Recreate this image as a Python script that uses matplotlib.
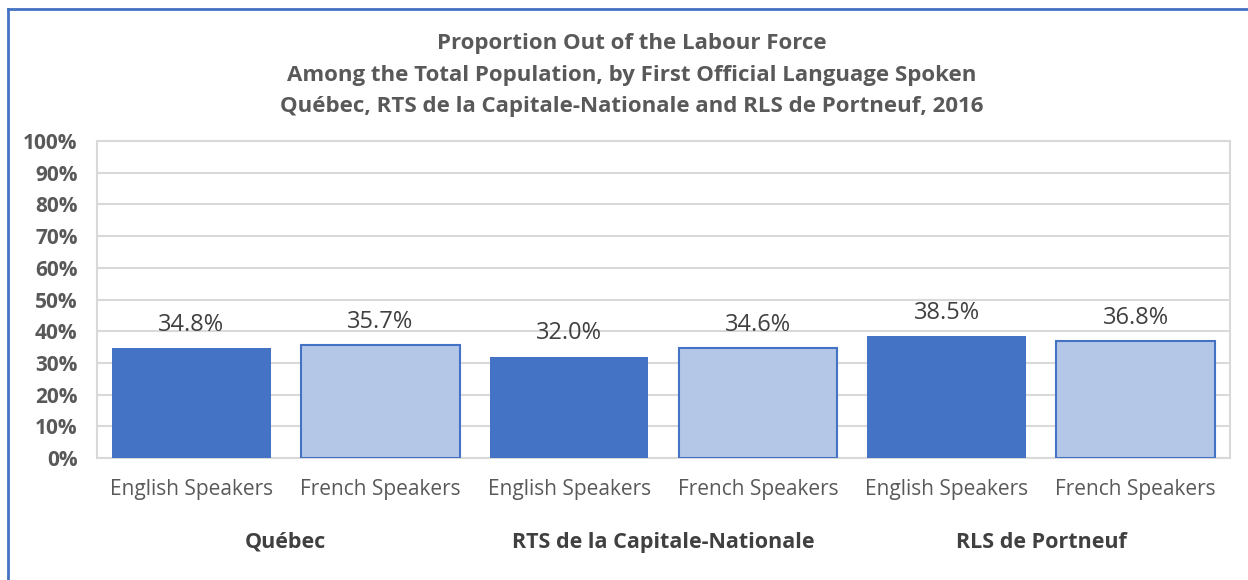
import matplotlib.pyplot as plt
import matplotlib.lines as mlines
from matplotlib.ticker import FixedLocator

groups = ["Québec", "RTS de la Capitale-Nationale", "RLS de Portneuf"]
categories = ["English Speakers", "French Speakers"]
values = [34.8, 35.7, 32.0, 34.6, 38.5, 36.8]
yticks = [0, 10, 20, 30, 40, 50, 60, 70, 80, 90, 100]
title_lines = ["Proportion Out of the Labour Force",
               "Among the Total Population, by First Official Language Spoken",
               "Québec, RTS de la Capitale-Nationale and RLS de Portneuf, 2016"]

plt.rcParams['font.family'] = ['Open Sans', 'DejaVu Sans']

fig = plt.figure(figsize=(12.48, 5.8), dpi=100)
ax = fig.add_axes([97/1248, 1-458/580, (1230-97)/1248, (458-141)/580])

dark = "#4472C4"
light = "#B4C7E7"
grey_txt = "#595959"

x = list(range(len(values)))
for i, v in enumerate(values):
    if i % 2 == 0:
        ax.bar(i, v, width=0.84, color=dark, edgecolor=dark, linewidth=0, zorder=3)
    else:
        ax.bar(i, v, width=0.84, color=light, edgecolor=dark, linewidth=1.5, zorder=3)
    ax.annotate(f"{v:.1f}%", (i, v), xytext=(0, 8), textcoords="offset points",
                ha="center", va="bottom", fontsize=17, color="#404040")

ax.set_xlim(-0.5, len(values) - 0.5)
ax.set_ylim(0, 100)
ax.yaxis.set_major_locator(FixedLocator(yticks))
ax.set_yticklabels([f"{t}%" for t in yticks], fontsize=15, fontweight="bold", color=grey_txt)
ax.grid(axis="y", color="#D9D9D9", linewidth=1.5, zorder=0)
ax.set_axisbelow(True)
for s in ax.spines.values():
    s.set_color("#D9D9D9")
    s.set_linewidth(1.5)
ax.tick_params(axis="y", length=0, pad=14)
ax.set_xticks(x)
ax.set_xticklabels([categories[i % 2] for i in x], fontsize=15, color=grey_txt)
ax.tick_params(axis="x", length=0, pad=15)

for g, name in enumerate(groups):
    xc = 2 * g + 0.5
    ax.text(xc, -26.5, name, ha="center", va="center", fontsize=15.5, fontweight="bold",
            color="#404040", transform=ax.transData, clip_on=False)

for k, line in enumerate(title_lines):
    fig.text(632/1248, 1 - (43.5 + 31.5 * k)/580, line, ha="center", va="center",
             fontsize=16, fontweight="bold", color=grey_txt)

# outer chart border (top and left visible)
fig.add_artist(mlines.Line2D([8/1248, 1], [1-9/580, 1-9/580], color=dark, linewidth=2,
                             transform=fig.transFigure))
fig.add_artist(mlines.Line2D([8/1248, 8/1248], [0, 1-9/580], color=dark, linewidth=2,
                             transform=fig.transFigure))

fig.savefig("out.png", dpi=100)
